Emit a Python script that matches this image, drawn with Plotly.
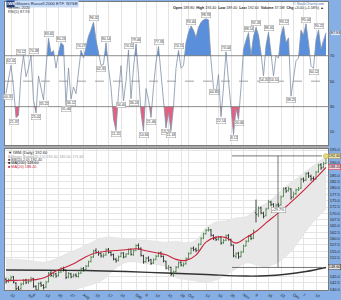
import plotly.graph_objects as go
from plotly.subplots import make_subplots

# ---------------- data (trading-day index 0..128 = 18 Jun 2020 .. 18 Dec 2020) -------------
rsi = [40.35, 50.12, 62.41, 45.20, 21.37, 23.15, 55.60, 70.12, 53.44, 60.20,
       70.38, 35.10, 25.02, 54.18, 45.30, 35.22, 60.50, 83.65, 72.10, 74.00,
       60.30, 72.40, 80.23, 78.15, 31.06, 60.40, 36.12, 45.40, 40.20, 55.30,
       74.27, 68.20, 76.10, 85.30, 90.20, 96.32, 82.40, 73.10, 62.35, 63.20,
       80.14, 60.20, 45.30, 20.10, 11.25, 40.30, 62.18, 34.40, 50.20, 74.52,
       36.24, 60.30, 79.06, 55.20, 25.10, 10.84, 44.12, 35.30, 21.46, 45.20,
       65.10, 77.33, 55.20, 35.10, 13.20, 25.40, 11.18, 30.20, 60.10, 74.15,
       60.20, 62.30, 80.10, 88.20, 93.40, 90.10, 84.22, 92.30, 96.10, 98.20,
       98.93, 98.10, 66.20, 44.85, 40.10, 55.20, 22.14, 45.30, 73.04, 50.20,
       30.10, 8.12, 28.30, 20.06, 45.20, 75.10, 82.30, 88.14, 70.20, 85.10,
       92.26, 86.00, 72.00, 54.20, 78.00, 88.45, 72.00, 54.10, 70.20, 68.00,
       86.30, 93.12, 80.20, 84.00, 38.25, 52.10, 66.00, 68.20, 90.10, 86.00,
       95.04, 80.50, 62.00, 60.12, 82.30, 90.22, 75.10, 82.20, 87.93]

opens = [143.8, 143.1, 143.9, 144.9, 142.4, 140.4, 140.2, 142.2, 143.6, 142.9,
         143.3, 144.2, 141.0, 139.9, 142.4, 141.5, 140.9, 143.0, 146.4, 145.2,
         146.1, 145.4, 146.9, 148.2, 147.5, 144.8, 146.0, 145.1, 145.7, 145.0,
         146.4, 148.2, 147.8, 149.2, 151.0, 152.8, 155.3, 154.5, 154.2, 153.0,
         153.6, 155.8, 154.5, 153.7, 151.8, 151.4, 153.0, 154.3, 152.9, 154.0,
         155.8, 153.6, 155.4, 157.3, 156.2, 153.2, 151.0, 152.4, 151.6, 150.4,
         151.8, 153.1, 154.4, 153.0, 151.0, 148.2, 148.6, 145.6, 147.0, 148.8,
         150.6, 149.4, 150.1, 152.2, 154.2, 156.2, 155.8, 155.4, 157.8, 160.2,
         162.0, 163.4, 163.4, 161.2, 160.2, 159.8, 160.6, 158.4, 159.4, 161.2,
         159.6, 157.4, 153.0, 154.2, 153.0, 154.8, 157.2, 159.0, 161.0, 160.2,
         170.2, 169.8, 172.2, 170.0, 169.2, 172.0, 174.4, 173.6, 171.6, 173.4,
         173.4, 176.8, 179.8, 179.0, 179.6, 176.6, 177.8, 179.4, 180.0, 183.6,
         183.2, 185.8, 184.6, 183.8, 183.6, 186.4, 189.2, 188.2, 189.8]
highs = [144.6, 144.3, 145.4, 145.2, 142.8, 141.3, 142.6, 144.0, 144.1, 143.9,
         144.9, 144.5, 141.6, 142.7, 143.0, 142.0, 143.3, 146.8, 147.2, 146.6,
         146.5, 147.2, 148.7, 148.9, 147.8, 146.8, 146.5, 146.2, 146.3, 146.9,
         148.6, 148.8, 149.6, 151.3, 153.1, 155.6, 156.2, 155.2, 154.6, 154.2,
         156.1, 156.3, 155.0, 154.1, 152.4, 153.3, 154.8, 154.6, 154.3, 156.1,
         156.0, 155.8, 157.8, 158.1, 156.5, 153.6, 152.8, 153.0, 152.0, 152.2,
         153.6, 154.8, 154.9, 153.3, 151.3, 149.6, 148.9, 147.4, 149.2, 151.0,
         151.1, 150.6, 152.6, 154.6, 156.6, 156.9, 156.4, 158.2, 160.6, 162.4,
         163.9, 164.5, 163.8, 161.7, 160.8, 161.1, 161.0, 159.9, 161.6, 161.8,
         160.0, 157.7, 154.6, 154.8, 155.2, 157.6, 159.5, 161.4, 161.6, 163.6,
         175.4, 172.8, 172.6, 170.6, 172.2, 175.3, 175.0, 174.0, 173.8, 174.1,
         177.0, 180.3, 180.4, 180.5, 179.9, 178.6, 179.8, 180.4, 184.0, 184.2,
         186.2, 186.4, 185.3, 184.6, 186.8, 189.6, 189.8, 190.3, 193.4]
lows = [142.2, 142.5, 143.2, 142.3, 139.4, 139.0, 139.8, 141.6, 142.0, 142.1,
        142.8, 140.6, 139.0, 139.5, 140.9, 139.9, 140.4, 142.7, 144.9, 144.6,
        144.5, 145.0, 146.4, 147.0, 144.0, 144.3, 144.3, 144.6, 144.7, 144.6,
        146.0, 147.0, 147.4, 148.8, 150.6, 152.4, 154.0, 153.2, 152.5, 152.4,
        153.2, 154.1, 153.0, 151.4, 150.5, 151.0, 152.6, 152.2, 152.4, 153.6,
        153.3, 153.2, 155.0, 155.5, 152.9, 150.1, 150.4, 150.8, 149.6, 150.0,
        151.4, 152.7, 152.5, 150.6, 147.8, 147.4, 145.2, 144.8, 146.5, 148.3,
        149.0, 148.8, 149.7, 151.8, 153.8, 155.0, 154.6, 155.0, 157.4, 159.8,
        161.6, 162.8, 160.8, 159.4, 159.0, 159.2, 157.6, 157.9, 159.0, 159.2,
        157.0, 152.6, 152.2, 152.0, 152.5, 154.4, 156.8, 158.6, 159.4, 159.8,
        166.4, 168.6, 169.6, 168.0, 168.8, 171.6, 172.8, 171.0, 171.0, 172.2,
        173.0, 176.4, 178.1, 178.6, 175.4, 176.0, 177.2, 178.8, 179.6, 182.2,
        182.8, 184.0, 182.8, 182.6, 183.2, 186.0, 187.2, 187.8, 189.4]
closes = [143.0, 143.6, 144.6, 142.8, 140.1, 139.8, 142.0, 143.4, 142.6, 143.0,
          144.0, 141.2, 139.6, 142.2, 141.6, 140.6, 142.6, 146.2, 145.4, 146.0,
          145.2, 146.6, 148.0, 147.8, 144.6, 146.2, 144.9, 145.5, 145.2, 146.2,
          148.0, 147.6, 149.0, 150.8, 152.6, 155.0, 154.6, 154.0, 153.2, 153.4,
          155.6, 154.6, 153.6, 152.0, 151.2, 152.8, 154.2, 152.7, 153.8, 155.6,
          153.8, 155.2, 157.2, 156.0, 153.4, 150.8, 152.2, 151.4, 150.2, 151.6,
          153.0, 154.2, 153.0, 151.2, 148.4, 148.8, 145.8, 146.8, 148.6, 150.4,
          149.6, 149.9, 152.0, 154.0, 156.0, 155.6, 155.2, 157.6, 160.0, 161.8,
          163.2, 163.6, 161.4, 160.0, 159.6, 160.4, 158.2, 159.2, 161.0, 159.8,
          157.6, 153.2, 154.0, 152.8, 154.6, 157.0, 158.8, 160.8, 160.0, 163.0,
          169.5, 172.0, 170.2, 168.8, 171.6, 174.6, 173.4, 171.8, 173.2, 173.0,
          176.4, 179.6, 178.8, 179.8, 176.2, 177.6, 179.2, 179.6, 183.4, 183.0,
          185.6, 184.8, 183.6, 183.4, 186.2, 189.0, 187.9, 189.6, 192.6]

ma_idx = [0, 4, 8, 12, 16, 20, 24, 28, 32, 36, 40, 44, 48, 52, 56, 60, 64,
          68, 72, 76, 80, 84, 88, 92, 96, 100, 104, 108, 112, 116, 120, 124, 128]
ma20 = [143.4, 143.5, 143.6, 143.8, 144.8, 147.2, 148.8, 150.6, 152.8, 154.4,
        155.0, 155.3, 155.6, 156.0, 155.2, 154.4, 153.6, 151.8, 151.4, 153.5,
        158.6, 160.6, 160.4, 158.2, 160.4, 162.8, 166.2, 169.4, 172.6, 176.2,
        180.0, 184.0, 188.2]
bb_upper = [152.0, 151.8, 151.5, 151.0, 150.8, 152.0, 154.0, 155.6, 157.4, 159.4,
            160.6, 160.4, 159.8, 159.6, 159.4, 159.0, 158.6, 159.0, 158.4, 159.4,
            164.2, 166.6, 167.0, 168.2, 168.6, 171.6, 174.0, 177.0, 180.8, 183.6,
            186.6, 189.6, 192.4]
bb_lower = [136.0, 136.2, 136.5, 137.0, 137.5, 138.0, 138.6, 140.0, 141.2, 142.4,
            144.6, 148.4, 150.6, 150.8, 150.0, 149.8, 148.8, 144.6, 143.8, 143.2,
            142.8, 143.6, 145.6, 148.0, 150.4, 149.6, 149.0, 150.2, 153.0, 157.4,
            163.0, 167.8, 171.6]
ma200_idx = [0, 16, 32, 48, 64, 80, 96, 104, 112, 120, 128]
ma200 = [147.6, 147.5, 147.4, 147.0, 146.4, 145.8, 145.2, 145.3, 145.9, 147.0, 148.6]

tick_idx = [2, 9, 11, 16, 21, 26, 31, 36, 41, 46, 52, 56, 60, 65, 70, 73, 80,
            85, 90, 95, 100, 105, 110, 115, 119, 124]
tick_text = ["22", "Jul", "6", "13", "20", "27", "Aug", "10", "17", "24", "Sep",
             "8", "14", "21", "28", "Oct", "12", "19", "26", "Nov", "9", "16",
             "23", "Dec", "7", "14"]
price_ticks = [140.0, 142.5, 145.0, 147.5, 150.0, 152.5, 155.0, 157.5, 160.0, 162.5,
               165.0, 167.5, 170.0, 172.5, 175.0, 177.5, 180.0, 182.5, 185.0, 187.5,
               190.0, 192.5, 195.0]

rsi_levels = [70, 50, 30]
rsi_ticks = [10, 30, 50, 70]
peak_idx = [2, 7, 10, 17, 22, 30, 35, 40, 49, 52, 61, 69, 74, 80, 88, 97, 100,
            105, 111, 120, 125]
trough_idx = [0, 4, 12, 15, 24, 26, 38, 44, 47, 50, 55, 58, 64, 66, 83, 86, 91,
              93, 103, 107, 114, 123]
label_nudge = {7: -2.5, 10: 2.5, 4: -2, 0: 1.5, 47: -2.5, 50: 2.5}

# measurement drawing: start idx, end idx, low price, high price, vertical idx
measure = [90.4, 126.4, 148.6, 192.7, 108.8]

# ---------------- figure ----------------
W, H = 341, 300
def px(x): return x / W
def py(y): return 1 - y / H

BLUE_BG = "#86afe6"
FONT = "Liberation Sans, Arial, sans-serif"

fig = make_subplots(rows=2, cols=1, shared_xaxes=True)

n = len(rsi)
xs = list(range(n))

def clip_poly(level, above):
    px_, py_ = [], []
    for i in range(n):
        if i > 0:
            a, b = rsi[i - 1], rsi[i]
            if (a - level) * (b - level) < 0:
                t = (level - a) / (b - a)
                px_.append(i - 1 + t); py_.append(level)
        v = rsi[i]
        px_.append(i); py_.append(max(v, level) if above else min(v, level))
    px_ += [n - 1, 0]; py_ += [level, level]
    return px_, py_

ax, ay = clip_poly(70, True)
fig.add_trace(go.Scatter(x=ax, y=ay, fill="toself", fillcolor="#5a8fdc",
                         line=dict(width=0), mode="lines", hoverinfo="skip"), row=1, col=1)
bx, by = clip_poly(30, False)
fig.add_trace(go.Scatter(x=bx, y=by, fill="toself", fillcolor="#e5607f",
                         line=dict(width=0), mode="lines", hoverinfo="skip"), row=1, col=1)
fig.add_trace(go.Scatter(x=xs, y=rsi, mode="lines",
                         line=dict(color="#8090a8", width=0.8)), row=1, col=1)

# price panel
fig.add_trace(go.Scatter(x=ma_idx, y=bb_upper, mode="lines", line=dict(color="#dcdcdc", width=0.5, shape="spline"),
                         hoverinfo="skip"), row=2, col=1)
fig.add_trace(go.Scatter(x=ma_idx, y=bb_lower, mode="lines", line=dict(color="#dcdcdc", width=0.5, shape="spline"),
                         fill="tonexty", fillcolor="#e8e8e8", hoverinfo="skip"), row=2, col=1)
fig.add_trace(go.Scatter(x=ma200_idx, y=ma200, mode="lines",
                         line=dict(color="#333333", width=1.4, shape="spline")), row=2, col=1)

# OHLC bars as line segments (vertical high-low, left tick open, right tick close)
def bar_path(up):
    bxs, bys = [], []
    for i in range(n):
        if (closes[i] >= opens[i]) != up:
            continue
        bxs += [i, i, None, i - 0.45, i, None, i, i + 0.45, None]
        bys += [lows[i], highs[i], None, opens[i], opens[i], None, closes[i], closes[i], None]
    return bxs, bys
ux, uy = bar_path(True)
dx, dy = bar_path(False)
fig.add_trace(go.Scatter(x=ux, y=uy, mode="lines", line=dict(color="#3f7f3f", width=0.8),
                         hoverinfo="skip"), row=2, col=1)
fig.add_trace(go.Scatter(x=dx, y=dy, mode="lines", line=dict(color="#1a1a1a", width=0.8),
                         hoverinfo="skip"), row=2, col=1)

fig.add_trace(go.Scatter(x=ma_idx, y=ma20, mode="lines",
                         line=dict(color="#c8243c", width=1.1, shape="spline")), row=2, col=1)
fig.add_trace(go.Scatter(x=[xs[-1]], y=[closes[-1]], mode="markers",
                         marker=dict(size=5, color="#e9e27a", line=dict(color="#9a9a50", width=0.5))),
              row=2, col=1)

shapes = []
for lv, dash in zip(rsi_levels, ["solid", "dash", "solid"]):
    shapes.append(dict(type="line", xref="x", yref="y", x0=-0.4, x1=128.8, y0=lv, y1=lv,
                       line=dict(color="#707070" if dash == "solid" else "#8a8a8a", width=0.8, dash=dash)))
x0m, x1m, lo_m, hi_m, xv = measure
for yy in (lo_m, hi_m):
    shapes.append(dict(type="line", xref="x2", yref="y2", x0=x0m, x1=x1m, y0=yy, y1=yy,
                       line=dict(color="#555555", width=0.8)))
shapes.append(dict(type="line", xref="x2", yref="y2", x0=xv, x1=xv, y0=lo_m, y1=hi_m,
                   line=dict(color="#555555", width=0.8)))
# separator between panels
shapes.append(dict(type="rect", xref="paper", yref="paper", x0=px(5), x1=px(328), y0=py(149), y1=py(145.5),
                   fillcolor="#a8a8a8", line=dict(width=0), layer="below"))

ann = []
tf = dict(family=FONT, size=3.5, color="#333")
for i in peak_idx:
    ann.append(dict(x=i, y=rsi[i], xref="x", yref="y", text=f"{rsi[i]:.2f}", showarrow=False,
                    yanchor="bottom", yshift=1, xshift=label_nudge.get(i, 0), font=tf,
                    bgcolor="white", bordercolor="#9a9a9a", borderwidth=0.5, borderpad=0.3))
for i in trough_idx:
    ann.append(dict(x=i, y=rsi[i], xref="x", yref="y", text=f"{rsi[i]:.2f}", showarrow=False,
                    yanchor="top", yshift=-1, xshift=label_nudge.get(i, 0), font=tf,
                    bgcolor="white", bordercolor="#9a9a9a", borderwidth=0.5, borderpad=0.3))

def txt(x, y, s, color="#222", size=4.2, anchor="left", bg=None, bold=False, bc=None):
    d = dict(x=px(x), y=py(y), xref="paper", yref="paper", text=(f"<b>{s}</b>" if bold else s),
             showarrow=False, xanchor=anchor, yanchor="middle",
             font=dict(family=FONT, size=size, color=color))
    if bg:
        d.update(bgcolor=bg, borderpad=0.3)
    if bc:
        d.update(bordercolor=bc, borderwidth=0.5)
    ann.append(d)

# header top
txt(5.5, 2.2, "IWM", color="white", bg="#1f3d78", bold=True, size=4.3)
txt(14, 2.2, "iShares Russell 2000 ETF  NYSE", color="#102a60", bg="#c9dcf3", size=4.2)
txt(5.5, 6.4, "18-Dec-2020", color="#333", size=3.8)
txt(5.5, 10.2, "RSI(5) 87.93", color="#333", size=3.8)
txt(326, 2.0, "© StockCharts.com", color="#4a6fa8", size=3.6, anchor="right")
txt(326, 6.0, "<b>Open</b> 189.80  <b>High</b> 193.40  <b>Low</b> 189.40  <b>Last</b> 192.60  "
    "<b>Volume</b> 37.5M  <b>Chg</b> +3.00 (+1.58%) ▲", color="#222", size=3.6, anchor="right")

# header bottom
txt(6, 153, "▼ IWM (Daily) 192.60", color="#222", size=4)
txt(6, 156.8, "Bollinger Bands(20,2.0) 192.40, 182.00, 171.60", color="#9a9a9a", size=3.6)
txt(6, 160.2, "■ BB(20,2.0) 192.40", color="#444", size=3.8)
txt(6, 163.6, "■ MA(200) 148.60", color="#111", size=3.8)
txt(6, 167.0, "■ MA(20) 188.20", color="#c8243c", size=3.8)

# measurement label
txt(278, 211, f"+{(hi_m / lo_m - 1) * 100:.1f}%", color="#333", size=3.6, anchor="center",
    bg="white", bc="#888")

# right-axis value boxes
box_vals = [closes[-1], ma20[-1], ma200[-1]]
def rbox(yval, s, bg, bc, row_axis):
    ann.append(dict(x=1.0, y=yval, xref="paper", yref=row_axis, text=s, showarrow=False,
                    xanchor="right", yanchor="middle", xshift=-0.5,
                    font=dict(family=FONT, size=3.8, color="#111"), bgcolor=bg,
                    bordercolor=bc, borderwidth=0.5, borderpad=0.3))
rbox(closes[-1], f"{closes[-1]:.2f}", "#efe7a8", "#777", "y2")
rbox(ma20[-1], f"{ma20[-1]:.2f}", "#f6d4dc", "#c8243c", "y2")
rbox(ma200[-1], f"{ma200[-1]:.2f}", "#e4e4e4", "#333", "y2")
rbox(rsi[-1], f"{rsi[-1]:.2f}", "#dbe7f7", "#5a8fdc", "y")

# tick labels that would sit under a value box are left out
shown_ticks = [t for t in price_ticks if all(abs(t - b) > 1.6 for b in box_vals)]

fig.update_layout(
    width=W, height=H, margin=dict(l=0, r=0, t=0, b=0),
    paper_bgcolor=BLUE_BG, plot_bgcolor="white", showlegend=False,
    shapes=shapes, annotations=ann, font=dict(family=FONT, size=4, color="#222"),
)
axis_common = dict(showline=True, mirror=True, linecolor="#7a7a7a", linewidth=1,
                   zeroline=False, ticks="")
fig.update_xaxes(range=[-0.4, 128.8], domain=[px(5), px(328)], tickmode="array",
                 tickvals=tick_idx, ticktext=tick_text, showgrid=True, gridcolor="#e4e4e4",
                 gridwidth=0.6, **axis_common)
fig.update_xaxes(showticklabels=False, row=1, col=1)
fig.update_xaxes(showticklabels=True, tickfont=dict(family=FONT, size=4, color="#1a1a1a"),
                 ticklabelstandoff=0, row=2, col=1)
fig.update_yaxes(range=[-0.2, 112.2], domain=[py(145), py(0)], side="right", tickmode="array",
                 tickvals=rsi_ticks, ticktext=[str(v) for v in rsi_ticks], showgrid=False,
                 tickfont=dict(family=FONT, size=4, color="#1a1a1a"), row=1, col=1, **axis_common)
fig.update_yaxes(range=[139.65, 195.42], domain=[py(292), py(149)], side="right",
                 tickmode="array", tickvals=shown_ticks, ticktext=[f"{t:.1f}" for t in shown_ticks],
                 showgrid=True, gridcolor="#e4e4e4", gridwidth=0.6,
                 tickfont=dict(family=FONT, size=4, color="#1a1a1a"), row=2, col=1, **axis_common)

fig.write_html("out.html")
